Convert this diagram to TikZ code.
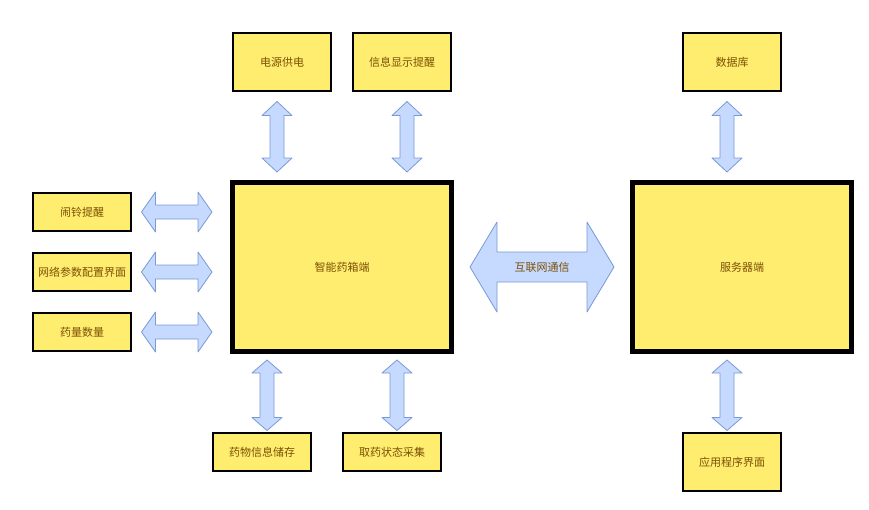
\documentclass[tikz,border=0pt]{standalone}
\usepackage{fontspec}
\newfontfamily\cjk{Noto Sans CJK SC}
\usetikzlibrary{calc}
\definecolor{boxfill}{RGB}{255,237,111}
\definecolor{txt}{RGB}{125,80,5}
\definecolor{arrfill}{RGB}{198,217,254}
\definecolor{arrline}{RGB}{122,154,214}
\tikzset{
  box/.style={draw=black, line width=1.6pt, fill=boxfill, text=txt, font=\cjk\fontsize{11}{13}\selectfont,
    minimum width=98, minimum height=58, inner sep=0pt, outer sep=0pt},
  smallbox/.style={box, minimum height=38},
  bigbox/.style={box, line width=5pt, minimum width=219, minimum height=169},
  arr/.style={draw=arrline, line width=0.8pt, fill=arrfill, line join=round},
}
% vertical double arrow: #1 top tip, #2 bottom tip, #3 shaft half, #4 head half, #5 head length
\newcommand\varr[5]{%
  \path[arr] let \p1=(#1), \p2=(#2) in
    (\p1) -- (\x1+#4pt,\y1-#5pt) -- (\x1+#3pt,\y1-#5pt) -- (\x1+#3pt,\y2+#5pt) -- (\x1+#4pt,\y2+#5pt)
    -- (\x1,\y2) -- (\x1-#4pt,\y2+#5pt) -- (\x1-#3pt,\y2+#5pt) -- (\x1-#3pt,\y1-#5pt) -- (\x1-#4pt,\y1-#5pt) -- cycle;}
% horizontal double arrow: #1 left tip, #2 right tip
\newcommand\harr[5]{%
  \path[arr] let \p1=(#1), \p2=(#2) in
    (\p1) -- (\x1+#5pt,\y1+#4pt) -- (\x1+#5pt,\y1+#3pt) -- (\x2-#5pt,\y1+#3pt) -- (\x2-#5pt,\y1+#4pt)
    -- (\x2,\y1) -- (\x2-#5pt,\y1-#4pt) -- (\x2-#5pt,\y1-#3pt) -- (\x1+#5pt,\y1-#3pt) -- (\x1+#5pt,\y1-#4pt) -- cycle;}
\begin{document}
\begin{tikzpicture}[x=1pt,y=-1pt]
\useasboundingbox[fill=white] (0,0) rectangle (869,509);
% main nodes
\node[bigbox] (main) at (342,267) {智能药箱端};
\node[bigbox] (srv) at (742,267) {服务器端};
% top
\node[box] (p1) at (282,62) {电源供电};
\node[box] (p2) at (402,62) {信息显示提醒};
\node[box] (db) at (732,62) {数据库};
% left
\node[smallbox] (l1) at (82,212) {闹铃提醒};
\node[smallbox] (l2) at (82,272) {网络参数配置界面};
\node[smallbox] (l3) at (82,332) {药量数量};
% bottom
\node[smallbox] (b1) at (262,452) {药物信息储存};
\node[smallbox] (b2) at (392,452) {取药状态采集};
\node[box] (app) at (732,462) {应用程序界面};
% arrow end points
\path (main.north) ++(-65,-10.5) coordinate (t1b);
\path (t1b |- p1.south) ++(0,10.5) coordinate (t1a);
\path (main.north) ++(65,-10.5) coordinate (t2b);
\path (t2b |- p2.south) ++(0,10.5) coordinate (t2a);
\path (main.south) ++(-75,8.5) coordinate (d1a);
\path (d1a |- b1.north) ++(0,-2.5) coordinate (d1b);
\path (main.south) ++(55,8.5) coordinate (d2a);
\path (d2a |- b2.north) ++(0,-2.5) coordinate (d2b);
\path (srv.north) ++(-15,-10.5) coordinate (s1b);
\path (s1b |- db.south) ++(0,10.5) coordinate (s1a);
\path (srv.south) ++(-15,8.5) coordinate (s2a);
\path (s2a |- app.north) ++(0,-2.5) coordinate (s2b);
\path (l1.east) ++(10.5,0) coordinate (h1a);
\path (h1a -| main.west) ++(-20.5,0) coordinate (h1b);
\path (l2.east) ++(10.5,0) coordinate (h2a);
\path (h2a -| main.west) ++(-20.5,0) coordinate (h2b);
\path (l3.east) ++(10.5,0) coordinate (h3a);
\path (h3a -| main.west) ++(-20.5,0) coordinate (h3b);
\path (main.east) ++(18.5,0) coordinate (ca);
\path (srv.west) ++(-18.5,0) coordinate (cb);
% arrows
\varr{t1a}{t1b}{7}{15}{14}
\varr{t2a}{t2b}{7}{15}{14}
\varr{s1a}{s1b}{7}{15}{14}
\varr{d1a}{d1b}{7}{15}{13}
\varr{d2a}{d2b}{7}{15}{13}
\varr{s2a}{s2b}{7}{15}{13}
\harr{h1a}{h1b}{7}{20}{14}
\harr{h2a}{h2b}{7}{20}{14}
\harr{h3a}{h3b}{7}{20}{14}
\harr{ca}{cb}{15}{45}{27}
\node[text=txt, font=\cjk\fontsize{11}{13}\selectfont] (net) at ($(ca)!0.5!(cb)$) {互联网通信};
\end{tikzpicture}
\end{document}
